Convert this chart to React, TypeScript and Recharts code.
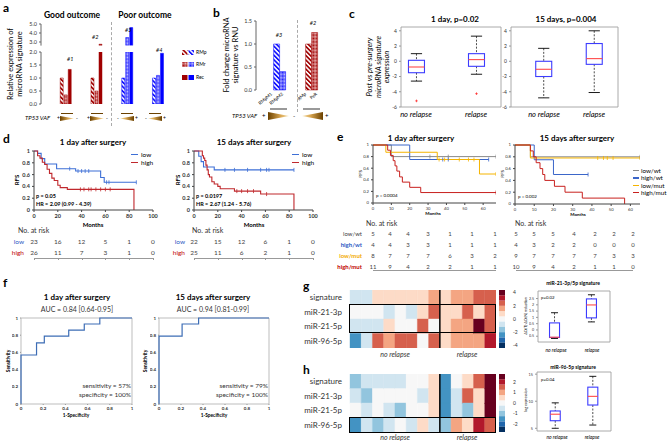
import React from 'react'
import {
  BarChart, Bar, ComposedChart, Line, Scatter, XAxis, YAxis, Cell, ReferenceLine, ReferenceArea,
} from 'recharts'

const FONT = 'Lato, "Open Sans", "Liberation Sans", sans-serif'

// ---------- panel a : relative expression per patient ----------
const aGroups = ['#1', '#2', '#3', '#4']
const aRMp = [1.0, 1.0, 1.0, 1.0]
const aRMr = [0.35, 0.5, 3.5, 1.1]
const aRec = [1.33, 2.75, 4.6, 1.95]
const aPoor = [false, false, true, true]
const aLowTicks = [0, 0.5, 1, 1.5, 2]
const aHighTicks = [3, 4, 5]

// ---------- panel b ----------
const bPatients = ['#3', '#2']
const bFirst = [1.0, 1.0]
const bSecond = [0.4, 1.25]
const bLabels = ['RMpM1', 'RMpM2', 'RMp', 'PeR']

// ---------- panel c : box stats ----------
const cDay1 = [
  { x: 1, lo: -2.6, q1: -1.5, med: -0.75, q3: 0.13, hi: 1.0 },
  { x: 2, lo: -1.7, q1: -0.66, med: 0.22, q3: 1.0, hi: 3.3 },
]
const cDay1Out = [{ x: 1, y: -5.2 }, { x: 2, y: -4.25 }]
const cDay15 = [
  { x: 1, lo: -4.8, q1: -2.0, med: -1.05, q3: 0.0, hi: 1.7 },
  { x: 2, lo: -4.1, q1: -0.4, med: 0.35, q3: 2.33, hi: 4.0 },
]
const cTicks = [-6, -4, -2, 0, 2, 4]

// ---------- panel d : Kaplan-Meier ----------
const dD1Low = { t: [0, 3, 6, 9, 19, 35, 56, 59, 86], s: [1, 0.96, 0.87, 0.78, 0.7, 0.66, 0.55, 0.47, 0.47], cens: [30, 37, 40, 43, 46, 61, 63, 86] }
const dD1High = { t: [0, 3, 5, 7, 9, 11, 13, 15, 17, 20, 22, 28, 84], s: [1, 0.92, 0.88, 0.81, 0.77, 0.69, 0.62, 0.54, 0.5, 0.42, 0.38, 0.35, 0], cens: [39, 42, 46, 48, 52, 56, 60, 64] }
const dD15Low = { t: [0, 4, 6, 8, 17, 84], s: [1, 0.91, 0.82, 0.73, 0.68, 0.68], cens: [26, 34, 45, 56, 61, 63, 84] }
const dD15High = { t: [0, 7, 8, 9, 10, 11, 12, 13, 15, 17, 20, 22, 34, 56, 84], s: [1, 0.92, 0.88, 0.84, 0.76, 0.68, 0.6, 0.56, 0.48, 0.44, 0.4, 0.36, 0.32, 0.27, 0], cens: [36, 40, 45, 50, 61] }
const dRiskD1Low = [23, 16, 12, 5, 1, 0]
const dRiskD1High = [26, 11, 7, 3, 1, 0]
const dRiskD15Low = [22, 15, 12, 6, 1, 0]
const dRiskD15High = [25, 11, 6, 2, 1, 0]
const dMonths = [0, 20, 40, 60, 80, 100]

// ---------- panel e ----------
const eD1LowWt = { t: [0, 10, 67], s: [1, 0.8, 0.8], cens: [31, 41, 67] }
const eD1HighWt = { t: [0, 20, 63], s: [1, 0.75, 0.75], cens: [38, 41, 63] }
const eD1LowMut = { t: [0, 7, 35, 58, 67], s: [1, 0.875, 0.75, 0.5, 0.5], cens: [36, 39, 47, 52, 55, 67] }
const eD1HighMut = { t: [0, 8, 9.5, 11, 12, 13, 14.5, 16, 20, 26, 67], s: [1, 0.91, 0.82, 0.73, 0.64, 0.55, 0.45, 0.36, 0.27, 0.18, 0.18], cens: [67] }
const eD15LowWt = { t: [0, 8, 65], s: [1, 0.8, 0.8], cens: [65] }
const eD15HighWt = { t: [0, 10, 20, 38], s: [1, 0.75, 0.5, 0.5], cens: [38] }
const eD15LowMut = { t: [0, 8, 65], s: [1, 0.78, 0.78], cens: [43, 46, 48, 51, 65] }
const eD15HighMut = { t: [0, 8, 9.5, 11, 13, 14.4, 15.5, 20.5, 26, 35, 57], s: [1, 0.9, 0.8, 0.7, 0.6, 0.5, 0.4, 0.3, 0.2, 0.1, 0], cens: [] as number[] }
const eGroups = ['low/wt', 'high/wt', 'low/mut', 'high/mut']
const eColors = ['#8a8a8a', '#3b66c9', '#f5b400', '#c8201e']
const eLabelColors = ['#444', '#2f5bc4', '#f2a900', '#c00000']
const eRiskD1 = [[5, 4, 4, 3, 1, 1, 1], [4, 4, 3, 3, 1, 1, 1], [8, 7, 7, 7, 6, 3, 2], [11, 9, 4, 2, 2, 1, 1]]
const eRiskD15 = [[5, 5, 5, 4, 2, 2, 2], [4, 3, 2, 2, 0, 0, 0], [9, 7, 7, 7, 7, 3, 3], [10, 9, 4, 2, 1, 1, 0]]
const eMonths = [0, 10, 20, 30, 40, 50, 60]

// ---------- panel f : ROC ----------
const fD1Fpr = [0, 0, 0.14, 0.21, 0.43, 0.57, 0.71, 1]
const fD1Tpr = [0, 0.57, 0.71, 0.79, 0.86, 0.93, 1, 1]
const fD15Fpr = [0, 0, 0.21, 0.36, 1]
const fD15Tpr = [0, 0.79, 0.93, 1, 1]
const fTicks = [0, 0.2, 0.4, 0.6, 0.8, 1]

// ---------- panels g / h : heatmaps + boxes ----------
const hmRows = ['signature', 'miR-21-3p', 'miR-21-5p', 'miR-96-5p']
const gValues = [
  [-1, -1, 1, 1, 1, 1, 1, 2, 1, 2, 2, 3, 3],
  [0, 0, 0, -1, 0, -1, 1, 3, 1, 1, 3, 1, 3],
  [-1, -1, -1, 1, 0, 0, 3, 0, 1, 2, 2, 4.3, 3],
  [-3, -1, 3, 2, 3, 3, 0, 3, 1, 2, 2, 2, 3.8],
]
const hValues = [
  [-1.2, -0.6, -0.6, -0.6, -0.6, 0, 0, 0.6, -1.9, 0, 0.6, 1.8, 2.75],
  [-0.6, -1.2, 0, 0, 0, 0, -0.6, 0.6, -1.9, -0.6, 1.8, 0.6, 2.75],
  [0, -0.6, 0, -0.6, -1.2, 0, 0, 0.6, -1.9, -0.6, -1.2, 0.6, 2.75],
  [-1.9, -0.6, -1.2, -0.6, 0, -0.6, 0.6, -0.6, -1.2, 1.2, 0.6, 2.4, 1.8],
]
const gBoxes = [
  { x: 1, lo: -0.68, q1: -0.6, med: -0.58, q3: 0.56, hi: 1.37 },
  { x: 2, lo: 0.64, q1: 0.96, med: 1.99, q3: 2.47, hi: 2.8 },
]
const hBoxes = [
  { x: 1, lo: 5.0, q1: 6.4, med: 7.6, q3: 8.2, hi: 9.7 },
  { x: 2, lo: 5.6, q1: 9.3, med: 10.9, q3: 12.6, hi: 14.6 },
]
const RDBU = ['#053061', '#2166ac', '#4393c3', '#92c5de', '#d1e5f0', '#f7f7f7', '#fddbc7', '#f4a582', '#d6604d', '#b2182b', '#67001f']

function rdbu(v: number, vmax: number) {
  const i = Math.round(((v + vmax) / (2 * vmax)) * 10)
  return RDBU[Math.max(0, Math.min(10, i))]
}

// ---------- text helpers ----------
type TP = { x: number; y: number; s?: number; b?: boolean; i?: boolean; a?: 'start' | 'middle' | 'end'; c?: string; children: React.ReactNode }
function Txt({ x, y, s = 7, b, i, a = 'start', c = '#000', children }: TP) {
  const tx = a === 'middle' ? '-50%' : a === 'end' ? '-100%' : '0'
  return (
    <div style={{ position: 'absolute', left: x, top: y, transform: `translate(${tx},-50%)`, fontSize: s, fontWeight: b ? 700 : 400, fontStyle: i ? 'italic' : 'normal', color: c, whiteSpace: 'nowrap', lineHeight: 1 }}>
      {children}
    </div>
  )
}
function VTxt({ x, y, s = 7, b, i, c = '#000', children }: TP) {
  return (
    <div style={{ position: 'absolute', left: x, top: y, transform: 'translate(-50%,-50%) rotate(-90deg)', fontSize: s, fontWeight: b ? 700 : 400, fontStyle: i ? 'italic' : 'normal', color: c, whiteSpace: 'nowrap', lineHeight: 1.15, textAlign: 'center' }}>
      {children}
    </div>
  )
}
function SlantTxt({ x, y, s = 5, children }: TP) {
  return (
    <div style={{ position: 'absolute', left: x, top: y, transform: 'translate(-100%,-50%) rotate(-40deg)', transformOrigin: 'right center', fontSize: s, whiteSpace: 'nowrap', lineHeight: 1 }}>
      {children}
    </div>
  )
}

function Defs() {
  const hatch = (id: string, col: string) => (
    <pattern id={id} width={3.2} height={3.2} patternUnits="userSpaceOnUse" patternTransform="rotate(-45)">
      <rect width={3.2} height={3.2} fill="#fff" />
      <rect width={1.7} height={3.2} fill={col} />
    </pattern>
  )
  const cross = (id: string, col: string, bg: string) => (
    <pattern id={id} width={2} height={2} patternUnits="userSpaceOnUse" patternTransform="rotate(45)">
      <rect width={2} height={2} fill={bg} />
      <rect width={1} height={1} fill={col} />
      <rect x={1} y={1} width={1} height={1} fill={col} />
    </pattern>
  )
  return (
    <svg width={0} height={0} style={{ position: 'absolute' }}>
      <defs>
        {hatch('hatchRed', '#a00000')}
        {hatch('hatchBlue', '#1414ff')}
        {cross('crossRed', '#a00000', '#f0c8c8')}
        {cross('crossBlue', '#1414ff', '#c8c8ff')}
        <linearGradient id="wedgeR" x1="0" x2="1" y1="0" y2="0">
          <stop offset="0" stopColor="#6b4100" />
          <stop offset="0.6" stopColor="#d9a650" />
          <stop offset="1" stopColor="#f6e2b0" />
        </linearGradient>
        <linearGradient id="wedgeL" x1="1" x2="0" y1="0" y2="0">
          <stop offset="0" stopColor="#6b4100" />
          <stop offset="0.6" stopColor="#d9a650" />
          <stop offset="1" stopColor="#f6e2b0" />
        </linearGradient>
      </defs>
    </svg>
  )
}

function Wedge({ x, y, w, h, wideLeft }: { x: number; y: number; w: number; h: number; wideLeft: boolean }) {
  const pts = wideLeft ? `0,0 ${w},${h / 2} 0,${h}` : `${w},0 0,${h / 2} ${w},${h}`
  return (
    <svg width={w} height={h} style={{ position: 'absolute', left: x, top: y - h / 2 }}>
      <polygon points={pts} fill={wideLeft ? 'url(#wedgeR)' : 'url(#wedgeL)'} />
    </svg>
  )
}

function HLine({ x0, x1, y, c = '#777', w = 1.5 }: { x0: number; x1: number; y: number; c?: string; w?: number }) {
  return <div style={{ position: 'absolute', left: x0, top: y, width: x1 - x0, height: w, background: c }} />
}

// ---------- panel a ----------
const aFill = (i: number, k: 'rmp' | 'rmr' | 'rec') => {
  if (aPoor[i]) return { rmp: 'url(#hatchBlue)', rmr: 'url(#crossBlue)', rec: '#0000ff' }[k]
  return { rmp: 'url(#hatchRed)', rmr: 'url(#crossRed)', rec: '#a00000' }[k]
}
const aStroke = (i: number) => (aPoor[i] ? '#0000ff' : '#a00000')

function ABars({ top, height, lo, hi, ticks, upper }: { top: number; height: number; lo: number; hi: number; ticks: number[]; upper: boolean }) {
  const cut = (v: number) => (upper && v <= lo ? null : v)
  const data = aGroups.map((g, i) => ({ g, rmp: cut(aRMp[i]), rmr: cut(aRMr[i]), rec: cut(aRec[i]) }))
  const yW = 16
  return (
    <div style={{ position: 'absolute', left: 41 - yW, top: top - 3 }}>
      <BarChart width={yW + 133} height={height + 6} data={data} margin={{ top: 3, right: 0, bottom: 3, left: 0 }} barGap={1} barCategoryGap="30%">
        <XAxis dataKey="g" hide padding={{ left: 10, right: 0 }} />
        <YAxis domain={[lo, hi]} ticks={ticks} allowDataOverflow width={yW} interval={0} tickSize={2} stroke="#666" tickFormatter={(v: number) => v.toFixed(1)} tick={{ fontSize: 5.5, fill: '#333' }} />
        {(['rmp', 'rmr', 'rec'] as const).map((k) => (
          <Bar key={k} dataKey={k} isAnimationActive={false}>
            {aGroups.map((_, i) => <Cell key={i} fill={aFill(i, k)} stroke={aStroke(i)} strokeWidth={0.5} />)}
          </Bar>
        ))}
      </BarChart>
    </div>
  )
}

// ---------- panel b ----------
function BBars() {
  const data = bPatients.map((p, i) => ({ p, first: bFirst[i], second: bSecond[i] }))
  const yW = 16
  return (
    <div style={{ position: 'absolute', left: 256 - yW, top: 21 - 3 }}>
      <BarChart width={yW + 72} height={69 + 6} data={data} margin={{ top: 3, right: 0, bottom: 3, left: 0 }} barGap={0} barCategoryGap="30%">
        <XAxis dataKey="p" hide padding={{ left: 8, right: 0 }} />
        <YAxis domain={[0, 1.5]} ticks={[0, 0.5, 1, 1.5]} width={yW} interval={0} tickSize={2} stroke="#666" tickFormatter={(v: number) => v.toFixed(1)} tick={{ fontSize: 5.5, fill: '#333' }} />
        <Bar dataKey="first" isAnimationActive={false}>
          {bPatients.map((_, i) => <Cell key={i} fill={i === 0 ? 'url(#hatchBlue)' : 'url(#hatchRed)'} stroke={i === 0 ? '#0000ff' : '#a00000'} strokeWidth={0.5} />)}
        </Bar>
        <Bar dataKey="second" isAnimationActive={false}>
          {bPatients.map((_, i) => <Cell key={i} fill={i === 0 ? 'url(#crossBlue)' : 'url(#crossRed)'} stroke={i === 0 ? '#0000ff' : '#a00000'} strokeWidth={0.5} />)}
        </Bar>
      </BarChart>
    </div>
  )
}

// ---------- box plot ----------
type BoxStat = { x: number; lo: number; q1: number; med: number; q3: number; hi: number }
function BoxShape(props: any) {
  const { x, y, width, height, payload, color } = props
  const top = Math.min(y, y + height)
  const h = Math.abs(height)
  const k = h / (payload.q3 - payload.q1)
  const py = (v: number) => top + (payload.q3 - v) * k
  const cx = x + width / 2
  const cap = width * 0.35
  return (
    <g>
      <line x1={cx} x2={cx} y1={py(payload.hi)} y2={top} stroke="#000" strokeWidth={0.7} strokeDasharray="2 1.5" />
      <line x1={cx} x2={cx} y1={top + h} y2={py(payload.lo)} stroke="#000" strokeWidth={0.7} strokeDasharray="2 1.5" />
      <line x1={cx - cap} x2={cx + cap} y1={py(payload.hi)} y2={py(payload.hi)} stroke="#000" strokeWidth={0.9} />
      <line x1={cx - cap} x2={cx + cap} y1={py(payload.lo)} y2={py(payload.lo)} stroke="#000" strokeWidth={0.9} />
      <rect x={x} y={top} width={width} height={h} fill="none" stroke={color} strokeWidth={1.1} />
      <line x1={x} x2={x + width} y1={py(payload.med)} y2={py(payload.med)} stroke="#ff4a4a" strokeWidth={1.1} />
    </g>
  )
}
const Plus = (p: any) => (
  <g stroke="#ff2020" strokeWidth={0.7}>
    <line x1={p.cx - 1.3} x2={p.cx + 1.3} y1={p.cy} y2={p.cy} />
    <line x1={p.cx} x2={p.cx} y1={p.cy - 1.3} y2={p.cy + 1.3} />
  </g>
)

function BoxPlot({ x0, y0, x1, y1, boxes, outliers = [], xDom, yDom, yTicks, boxW, fs, yW }: {
  x0: number; y0: number; x1: number; y1: number; boxes: BoxStat[]; outliers?: { x: number; y: number }[]
  xDom: [number, number]; yDom: [number, number]; yTicks: number[]; boxW: number; fs: number; yW: number
}) {
  const mt = 3
  return (
    <div style={{ position: 'absolute', left: x0 - yW, top: y0 - mt }}>
      <ComposedChart width={yW + x1 - x0 + 2} height={mt + y1 - y0 + 3} data={boxes} margin={{ top: mt, right: 2, bottom: 3, left: 0 }}>
        <XAxis type="number" dataKey="x" domain={xDom} hide allowDataOverflow />
        <YAxis type="number" domain={yDom} ticks={yTicks} allowDataOverflow width={yW} interval={0} axisLine={false} tickSize={2} stroke="#999" tick={{ fontSize: fs, fill: '#333' }} />
        <ReferenceArea x1={xDom[0]} x2={xDom[1]} y1={yDom[0]} y2={yDom[1]} fill="none" stroke="#a0a0a0" strokeWidth={0.9} />
        <Bar dataKey={(d: BoxStat) => [d.q1, d.q3]} barSize={boxW} isAnimationActive={false} shape={(p: any) => <BoxShape {...p} color="#3c3cff" />} />
        <Scatter data={outliers} dataKey="y" isAnimationActive={false} shape={Plus} />
      </ComposedChart>
    </div>
  )
}

// ---------- Kaplan-Meier ----------
type Curve = { t: number[]; s: number[]; cens: number[] }
function survAt(c: Curve, x: number) {
  let v = 1
  c.t.forEach((tt, k) => { if (tt <= x) v = c.s[k] })
  return v
}
function KMPlot({ x0, y0, x1, y1, xMax, xTicks, curves, colors, fs, sw, yW, xH, bold }: {
  x0: number; y0: number; x1: number; y1: number; xMax: number; xTicks: number[]; curves: Curve[]; colors: string[]
  fs: number; sw: number; yW: number; xH: number; bold?: boolean
}) {
  const mt = 4, mr = 6
  const tick = { fontSize: fs, fill: '#333', fontWeight: bold ? 700 : 400 }
  return (
    <div style={{ position: 'absolute', left: x0 - yW, top: y0 - mt }}>
      <ComposedChart width={yW + (x1 - x0) + mr} height={mt + (y1 - y0) + xH} margin={{ top: mt, right: mr, bottom: 0, left: 0 }}>
        <XAxis type="number" dataKey="t" domain={[0, xMax]} ticks={xTicks} allowDataOverflow interval={0} height={xH} tickSize={2} stroke="#444" tick={tick} />
        <YAxis type="number" domain={[0, 1]} ticks={[0, 0.2, 0.4, 0.6, 0.8, 1]} interval={0} width={yW} tickSize={2} stroke="#444" tick={tick} />
        {curves.map((c, k) => (
          <Line key={'l' + k} data={c.t.map((t, j) => ({ t, s: c.s[j] }))} dataKey="s" type="stepAfter" stroke={colors[k]} strokeWidth={sw} dot={false} isAnimationActive={false} />
        ))}
        {curves.map((c, k) => (
          <Scatter key={'c' + k} data={c.cens.map((t) => ({ t, s: survAt(c, t) }))} dataKey="s" isAnimationActive={false}
            shape={(p: any) => <line x1={p.cx} x2={p.cx} y1={p.cy - 2} y2={p.cy + 2} stroke={colors[k]} strokeWidth={0.8} />} />
        ))}
      </ComposedChart>
    </div>
  )
}

// ---------- ROC ----------
function ROC({ x0, y0, x1, y1, fpr, tpr }: { x0: number; y0: number; x1: number; y1: number; fpr: number[]; tpr: number[] }) {
  const yW = 9, xH = 8, mt = 3, mr = 4
  const data = fpr.map((f, i) => ({ f, s: tpr[i] }))
  const tick = { fontSize: 4.5, fill: '#333', fontWeight: 700 }
  return (
    <div style={{ position: 'absolute', left: x0 - yW, top: y0 - mt }}>
      <ComposedChart width={yW + x1 - x0 + mr} height={mt + y1 - y0 + xH} data={data} margin={{ top: mt, right: mr, bottom: 0, left: 0 }}>
        <XAxis type="number" dataKey="f" domain={[0, 1]} ticks={fTicks} interval={0} height={xH} axisLine={false} tickSize={1} stroke="#999" tick={tick} />
        <YAxis type="number" domain={[0, 1]} ticks={fTicks} interval={0} width={yW} axisLine={false} tickSize={1} stroke="#999" tick={tick} />
        <ReferenceArea x1={0} x2={1} y1={0} y2={1} fill="none" stroke="#b5b5b5" strokeWidth={0.9} />
        <Line dataKey="s" type="stepAfter" stroke="#3d6db5" strokeWidth={1.2} dot={false} isAnimationActive={false} />
      </ComposedChart>
    </div>
  )
}

// ---------- heatmap ----------
function Heatmap({ top, values, vmax }: { top: number; values: number[][]; vmax: number }) {
  const labelW = 54
  const nCols = values[0].length
  const data = hmRows.map((row, i) => {
    const o: Record<string, any> = { row }
    values[i].forEach((_, j) => { o['c' + j] = 1 })
    return o
  })
  return (
    <div style={{ position: 'absolute', left: 350 - labelW, top }}>
      <BarChart layout="vertical" width={labelW + 146} height={58} data={data} margin={{ top: 0, right: 0, bottom: 0, left: 0 }} barCategoryGap={0}>
        <XAxis type="number" domain={[0, nCols]} hide />
        <YAxis type="category" dataKey="row" width={labelW} tickLine={false} axisLine={false} tick={{ fontSize: 8, fill: '#333' }} />
        {values[0].map((_, j) => (
          <Bar key={j} dataKey={'c' + j} stackId="h" isAnimationActive={false}>
            {hmRows.map((_, i) => {
              const col = rdbu(values[i][j], vmax)
              return <Cell key={i} fill={col} stroke={col} strokeWidth={0.4} />
            })}
          </Bar>
        ))}
        <ReferenceLine x={8} stroke="#000" strokeWidth={1.5} />
      </BarChart>
    </div>
  )
}

function ColorBar({ top, vmax, ticks }: { top: number; vmax: number; ticks: number[] }) {
  const step = (2 * vmax) / 11
  const row: Record<string, any> = { k: 'cb' }
  const keys: { key: string; color: string }[] = []
  for (let i = 0; i < 6; i++) {
    row['p' + i] = i === 0 ? step / 2 : step
    row['n' + i] = i === 0 ? -step / 2 : -step
    keys.push({ key: 'p' + i, color: RDBU[5 + i] }, { key: 'n' + i, color: RDBU[5 - i] })
  }
  return (
    <div style={{ position: 'absolute', left: 499, top }}>
      <BarChart width={6 + 14} height={58} data={[row]} stackOffset="sign" margin={{ top: 0, right: 0, bottom: 0, left: 0 }} barCategoryGap={0}>
        <XAxis dataKey="k" hide />
        <YAxis orientation="right" domain={[-vmax, vmax]} ticks={ticks} interval={0} width={14} axisLine={false} tickLine={false} tick={{ fontSize: 5, fill: '#333' }} />
        {keys.map((k) => <Bar key={k.key} dataKey={k.key} stackId="cb" fill={k.color} isAnimationActive={false} />)}
      </BarChart>
    </div>
  )
}

export default function App() {
  const dX = (x0: number) => dMonths.map((m) => x0 + m * 1.19)
  const eXL = [373, 390, 408, 428, 450, 472, 495]
  const eXR = [516, 534, 553, 574, 595, 614, 633]
  return (
    <div style={{ position: 'absolute', left: 0, top: 0, width: 669, height: 441, background: '#fff', overflow: 'hidden', fontFamily: FONT, color: '#000' }}>
      <Defs />
      {[['a', 3, 8], ['b', 213, 13], ['c', 349, 14], ['d', 3, 139], ['e', 337, 137], ['f', 3, 283], ['g', 303, 286], ['h', 303, 370]].map(([l, x, y]) => (
        <Txt key={l as string} x={x as number} y={y as number} s={12} b>{l}</Txt>
      ))}

      {/* ---- a ---- */}
      <Txt x={72} y={15} s={8.5} b a="middle">Good outcome</Txt>
      <Txt x={145} y={15} s={8.5} b a="middle">Poor outcome</Txt>
      <VTxt x={16} y={64} s={7.5}>Relative expression of<br />microRNA signature</VTxt>
      <ABars top={24} height={21.6} lo={2.6} hi={5} ticks={aHighTicks} upper />
      <ABars top={52} height={52} lo={0} hi={2} ticks={aLowTicks} upper={false} />
      <div style={{ position: 'absolute', left: 111, top: 22, height: 104, borderLeft: '1px dashed #aaa' }} />
      <Txt x={67} y={60} s={5.5} i>#1</Txt>
      <Txt x={92} y={38} s={5.5} i>#2</Txt>
      <Txt x={125} y={31} s={5.5} i>#3</Txt>
      <Txt x={156} y={51} s={5.5} i>#4</Txt>
      {[['RMp', 'hatch', 52], ['RMr', 'cross', 64], ['Rec', 'solid', 77]].map(([n, k, y]) => (
        <React.Fragment key={n as string}>
          <svg width={12} height={5} style={{ position: 'absolute', left: 182, top: (y as number) - 2.5 }}>
            <rect x={0} y={0} width={5.5} height={5} fill={k === 'hatch' ? 'url(#hatchRed)' : k === 'cross' ? 'url(#crossRed)' : '#a00000'} />
            <rect x={6.5} y={0} width={5.5} height={5} fill={k === 'hatch' ? 'url(#hatchBlue)' : k === 'cross' ? 'url(#crossBlue)' : '#0000ff'} />
          </svg>
          <Txt x={196} y={y as number} s={5}>{n}</Txt>
        </React.Fragment>
      ))}
      <Txt x={25} y={118} s={6} i>TP53 VAF</Txt>
      {[57, 87].map((x) => (
        <React.Fragment key={x}>
          <Txt x={x} y={118} s={5}>+</Txt>
          <Wedge x={x + 3} y={118} w={14} h={5} wideLeft />
          <Txt x={x + 19} y={118} s={5}>-</Txt>
          <HLine x0={x + 4} x1={x + 16} y={113} c="#6b4100" w={0.8} />
        </React.Fragment>
      ))}
      {[117, 145].map((x) => (
        <React.Fragment key={x}>
          <Txt x={x} y={118} s={5}>-</Txt>
          <Wedge x={x + 3} y={118} w={14} h={5} wideLeft={false} />
          <Txt x={x + 18} y={118} s={5}>+</Txt>
          <HLine x0={x + 4} x1={x + 16} y={113} c="#6b4100" w={0.8} />
        </React.Fragment>
      ))}

      {/* ---- b ---- */}
      <VTxt x={232} y={55} s={7.5}>Fold change microRNA<br />signature vs RNU</VTxt>
      <BBars />
      <div style={{ position: 'absolute', left: 297, top: 20, height: 92, borderLeft: '1px dashed #aaa' }} />
      <Txt x={279} y={36} s={5.5} i a="middle">#3</Txt>
      <Txt x={313} y={24} s={5.5} i a="middle">#2</Txt>
      {bLabels.map((l, i) => (
        <SlantTxt key={l} x={[272, 283, 306, 317][i]} y={94} s={4.5}>{l}</SlantTxt>
      ))}
      <Txt x={232} y={116} s={6} i>TP53 VAF</Txt>
      <Txt x={262} y={116} s={6}>+</Txt>
      <Wedge x={268} y={116} w={21} h={8} wideLeft />
      <Txt x={293} y={116} s={6}>-</Txt>
      <Wedge x={302} y={116} w={21} h={8} wideLeft={false} />
      <Txt x={325} y={116} s={6}>+</Txt>
      <HLine x0={270} x1={287} y={108} c="#999" />
      <HLine x0={303} x1={320} y={108} c="#999" />

      {/* ---- c ---- */}
      <Txt x={455} y={19} s={8} b a="middle">1 day, p=0.02</Txt>
      <Txt x={566} y={19} s={8} b a="middle">15 days, p=0.004</Txt>
      <VTxt x={379} y={67} s={7.5} i>Post vs pre-surgery<br />microRNA signature<br />expression</VTxt>
      <BoxPlot x0={401} y0={27} x1={501} y1={107} boxes={cDay1} outliers={cDay1Out} xDom={[0.742, 2.408]} yDom={[-6, 4.5]} yTicks={cTicks} boxW={16} fs={5} yW={10} />
      <BoxPlot x0={511} y0={27} x1={618} y1={107} boxes={cDay15} xDom={[0.347, 2.465]} yDom={[-6, 4.5]} yTicks={cTicks} boxW={16} fs={5} yW={10} />
      <Txt x={416} y={115} s={7.5} i a="middle">no relapse</Txt>
      <Txt x={476} y={115} s={7.5} i a="middle">relapse</Txt>
      <Txt x={544} y={115} s={7.5} i a="middle">no relapse</Txt>
      <Txt x={594} y={115} s={7.5} i a="middle">relapse</Txt>

      {/* ---- d ---- */}
      <Txt x={93} y={142} s={8} b a="middle">1 day after surgery</Txt>
      <Txt x={254} y={142} s={8} b a="middle">15 days after surgery</Txt>
      <KMPlot x0={34} y0={151} x1={153} y1={210} xMax={100} xTicks={dMonths} curves={[dD1Low, dD1High]} colors={['#3d6fd6', '#c0282d']} fs={5.5} sw={1.1} yW={14} xH={10} bold />
      <KMPlot x0={194} y0={151} x1={313} y1={210} xMax={100} xTicks={dMonths} curves={[dD15Low, dD15High]} colors={['#3d6fd6', '#c0282d']} fs={5.5} sw={1.1} yW={14} xH={10} bold />
      <VTxt x={17} y={180} s={6} b>RFS</VTxt>
      <VTxt x={178} y={180} s={6} b>RFS</VTxt>
      <Txt x={93} y={225} s={6} b a="middle">Months</Txt>
      <Txt x={254} y={225} s={6} b a="middle">Months</Txt>
      <Txt x={36} y={197} s={5.5} b>p = 0.05</Txt>
      <Txt x={36} y={205} s={5.5} b>HR = 2.09 (0.99 - 4.39)</Txt>
      <Txt x={196} y={197} s={5.5} b>p = 0.0197</Txt>
      <Txt x={196} y={205} s={5.5} b>HR = 2.67 (1.24 - 5.76)</Txt>
      {[131, 292].map((x) => (
        <React.Fragment key={x}>
          <HLine x0={x} x1={x + 7} y={154} c="#3d6fd6" w={1.3} />
          <Txt x={x + 10} y={155} s={6.5}>low</Txt>
          <HLine x0={x} x1={x + 7} y={162} c="#c0282d" w={1.3} />
          <Txt x={x + 10} y={163} s={6.5}>high</Txt>
        </React.Fragment>
      ))}
      <Txt x={18} y={230} s={7} c="#333">No. at risk</Txt>
      <Txt x={192} y={230} s={7} c="#333">No. at risk</Txt>
      <Txt x={24} y={242} s={6.5} a="end" c="#2f5bc4">low</Txt>
      <Txt x={24} y={253} s={6.5} a="end" c="#c00000">high</Txt>
      <Txt x={185} y={242} s={6.5} a="end" c="#2f5bc4">low</Txt>
      <Txt x={185} y={253} s={6.5} a="end" c="#c00000">high</Txt>
      {dX(34).map((x, i) => (
        <React.Fragment key={'dl' + i}>
          <Txt x={x} y={242} s={6.5} a="middle" c="#444">{dRiskD1Low[i]}</Txt>
          <Txt x={x} y={253} s={6.5} a="middle" c="#444">{dRiskD1High[i]}</Txt>
          <div style={{ position: 'absolute', left: x, top: 258, width: 0.7, height: 2, background: '#999' }} />
        </React.Fragment>
      ))}
      {dX(194).map((x, i) => (
        <React.Fragment key={'dr' + i}>
          <Txt x={x} y={242} s={6.5} a="middle" c="#444">{dRiskD15Low[i]}</Txt>
          <Txt x={x} y={253} s={6.5} a="middle" c="#444">{dRiskD15High[i]}</Txt>
          <div style={{ position: 'absolute', left: x, top: 258, width: 0.7, height: 2, background: '#999' }} />
        </React.Fragment>
      ))}
      <HLine x0={34} x1={153} y={258} c="#999" w={0.7} />
      <HLine x0={194} x1={313} y={258} c="#999" w={0.7} />

      {/* ---- e ---- */}
      <Txt x={421} y={138} s={8} b a="middle">1 day after surgery</Txt>
      <Txt x={577} y={138} s={8} b a="middle">15 days after surgery</Txt>
      <KMPlot x0={373} y0={145} x1={496} y1={203} xMax={67} xTicks={eMonths} curves={[eD1LowWt, eD1HighWt, eD1LowMut, eD1HighMut]} colors={eColors} fs={4.2} sw={1} yW={10} xH={8} />
      <KMPlot x0={515} y0={145} x1={640} y1={204} xMax={65} xTicks={eMonths} curves={[eD15LowWt, eD15HighWt, eD15LowMut, eD15HighMut]} colors={eColors} fs={4.2} sw={1} yW={10} xH={8} />
      <VTxt x={361} y={174} s={4.5}>RFS</VTxt>
      <VTxt x={503} y={174} s={4.5}>RFS</VTxt>
      <Txt x={433} y={214} s={4.5} b a="middle">Months</Txt>
      <Txt x={578} y={215} s={4.5} b a="middle">Months</Txt>
      <Txt x={376} y={196} s={4.5}>p = 0.0004</Txt>
      <Txt x={518} y={197} s={4.5}>p = 0.002</Txt>
      {eGroups.map((g, i) => (
        <React.Fragment key={g}>
          <HLine x0={633} x1={639} y={170 + i * 7.3} c={eColors[i]} w={1.3} />
          <Txt x={641} y={171 + i * 7.3} s={6.3}>{g}</Txt>
        </React.Fragment>
      ))}
      <Txt x={366} y={223} s={7} c="#333">No. at risk</Txt>
      <Txt x={515} y={223} s={7} c="#333">No. at risk</Txt>
      {eGroups.map((g, i) => (
        <React.Fragment key={'er' + g}>
          <Txt x={362} y={234 + i * 11} s={6} a="end" c={eLabelColors[i]} b={i > 0}>{g}</Txt>
          {eXL.map((x, j) => <Txt key={'a' + j} x={x} y={234 + i * 11} s={6} a="middle" c="#444">{eRiskD1[i][j]}</Txt>)}
          {eXR.map((x, j) => <Txt key={'b' + j} x={x} y={234 + i * 11} s={6} a="middle" c="#444">{eRiskD15[i][j]}</Txt>)}
        </React.Fragment>
      ))}
      <HLine x0={373} x1={496} y={270} c="#999" w={0.7} />
      <HLine x0={516} x1={633} y={270} c="#999" w={0.7} />

      {/* ---- f ---- */}
      <Txt x={77} y={297} s={8} b a="middle">1 day after surgery</Txt>
      <Txt x={213} y={297} s={8} b a="middle">15 days after surgery</Txt>
      <Txt x={77} y={309} s={7} a="middle" c="#333">AUC = 0.84 [0.64-0.95]</Txt>
      <Txt x={213} y={309} s={7} a="middle" c="#333">AUC = 0.94 [0.81-0.99]</Txt>
      <ROC x0={21} y0={318} x1={132} y1={404} fpr={fD1Fpr} tpr={fD1Tpr} />
      <ROC x0={159} y0={318} x1={269} y1={404} fpr={fD15Fpr} tpr={fD15Tpr} />
      <VTxt x={9} y={361} s={4.8} b>Sensitivity</VTxt>
      <VTxt x={146} y={361} s={4.8} b>Sensitivity</VTxt>
      <Txt x={76} y={415} s={4.8} b a="middle">1-Specificity</Txt>
      <Txt x={214} y={415} s={4.8} b a="middle">1-Specificity</Txt>
      <Txt x={131} y={386} s={6.5} a="end" c="#333">sensitivity = 57%</Txt>
      <Txt x={131} y={395} s={6.5} a="end" c="#333">specificity = 100%</Txt>
      <Txt x={268} y={386} s={6.5} a="end" c="#333">sensitivity = 79%</Txt>
      <Txt x={268} y={395} s={6.5} a="end" c="#333">specificity = 100%</Txt>

      {/* ---- g ---- */}
      <Heatmap top={290} values={gValues} vmax={4.4} />
      <div style={{ position: 'absolute', left: 349, top: 303.5, width: 147, height: 29, border: '1.5px solid #000', boxSizing: 'border-box' }} />
      <ColorBar top={290} vmax={4.4} ticks={[-4, -2, 0, 2, 4]} />
      <Txt x={395} y={354} s={7} i a="middle" c="#333">no relapse</Txt>
      <Txt x={467} y={354} s={7} i a="middle" c="#333">relapse</Txt>
      <Txt x={573} y={283} s={5} b a="middle">miR-21-3p/5p signature</Txt>
      <BoxPlot x0={538} y0={291} x1={610} y1={342} boxes={gBoxes} xDom={[0.54, 2.49]} yDom={[-0.96, 3.1]} yTicks={[-0.5, 0, 0.5, 1, 1.5, 2, 2.5]} boxW={10} fs={3.6} yW={9} />
      <VTxt x={526} y={316} s={3.5}>ΔCt(T)-ΔCt(N) reduction</VTxt>
      <Txt x={541} y={298} s={4.3}>p=0.02</Txt>
      <Txt x={556} y={350} s={5} i a="middle">no relapse</Txt>
      <Txt x={592} y={350} s={5} i a="middle">relapse</Txt>

      {/* ---- h ---- */}
      <Heatmap top={374} values={hValues} vmax={2.75} />
      <div style={{ position: 'absolute', left: 349, top: 417, width: 147, height: 16, border: '1.5px solid #000', boxSizing: 'border-box' }} />
      <ColorBar top={374} vmax={2.75} ticks={[-2, -1, 0, 1, 2]} />
      <Txt x={395} y={437} s={7} i a="middle" c="#333">no relapse</Txt>
      <Txt x={467} y={437} s={7} i a="middle" c="#333">relapse</Txt>
      <Txt x={573} y={367} s={5} b a="middle">miR-96-5p signature</Txt>
      <BoxPlot x0={537} y0={372} x1={611} y1={431} boxes={hBoxes} xDom={[0.52, 2.49]} yDom={[4.5, 15.4]} yTicks={[5, 10, 15]} boxW={10} fs={3.8} yW={9} />
      <VTxt x={526} y={400} s={3.8}>log expression</VTxt>
      <Txt x={541} y={380} s={4.3}>p=0.04</Txt>
      <Txt x={557} y={437} s={5} i a="middle">no relapse</Txt>
      <Txt x={592} y={437} s={5} i a="middle">relapse</Txt>
    </div>
  )
}
